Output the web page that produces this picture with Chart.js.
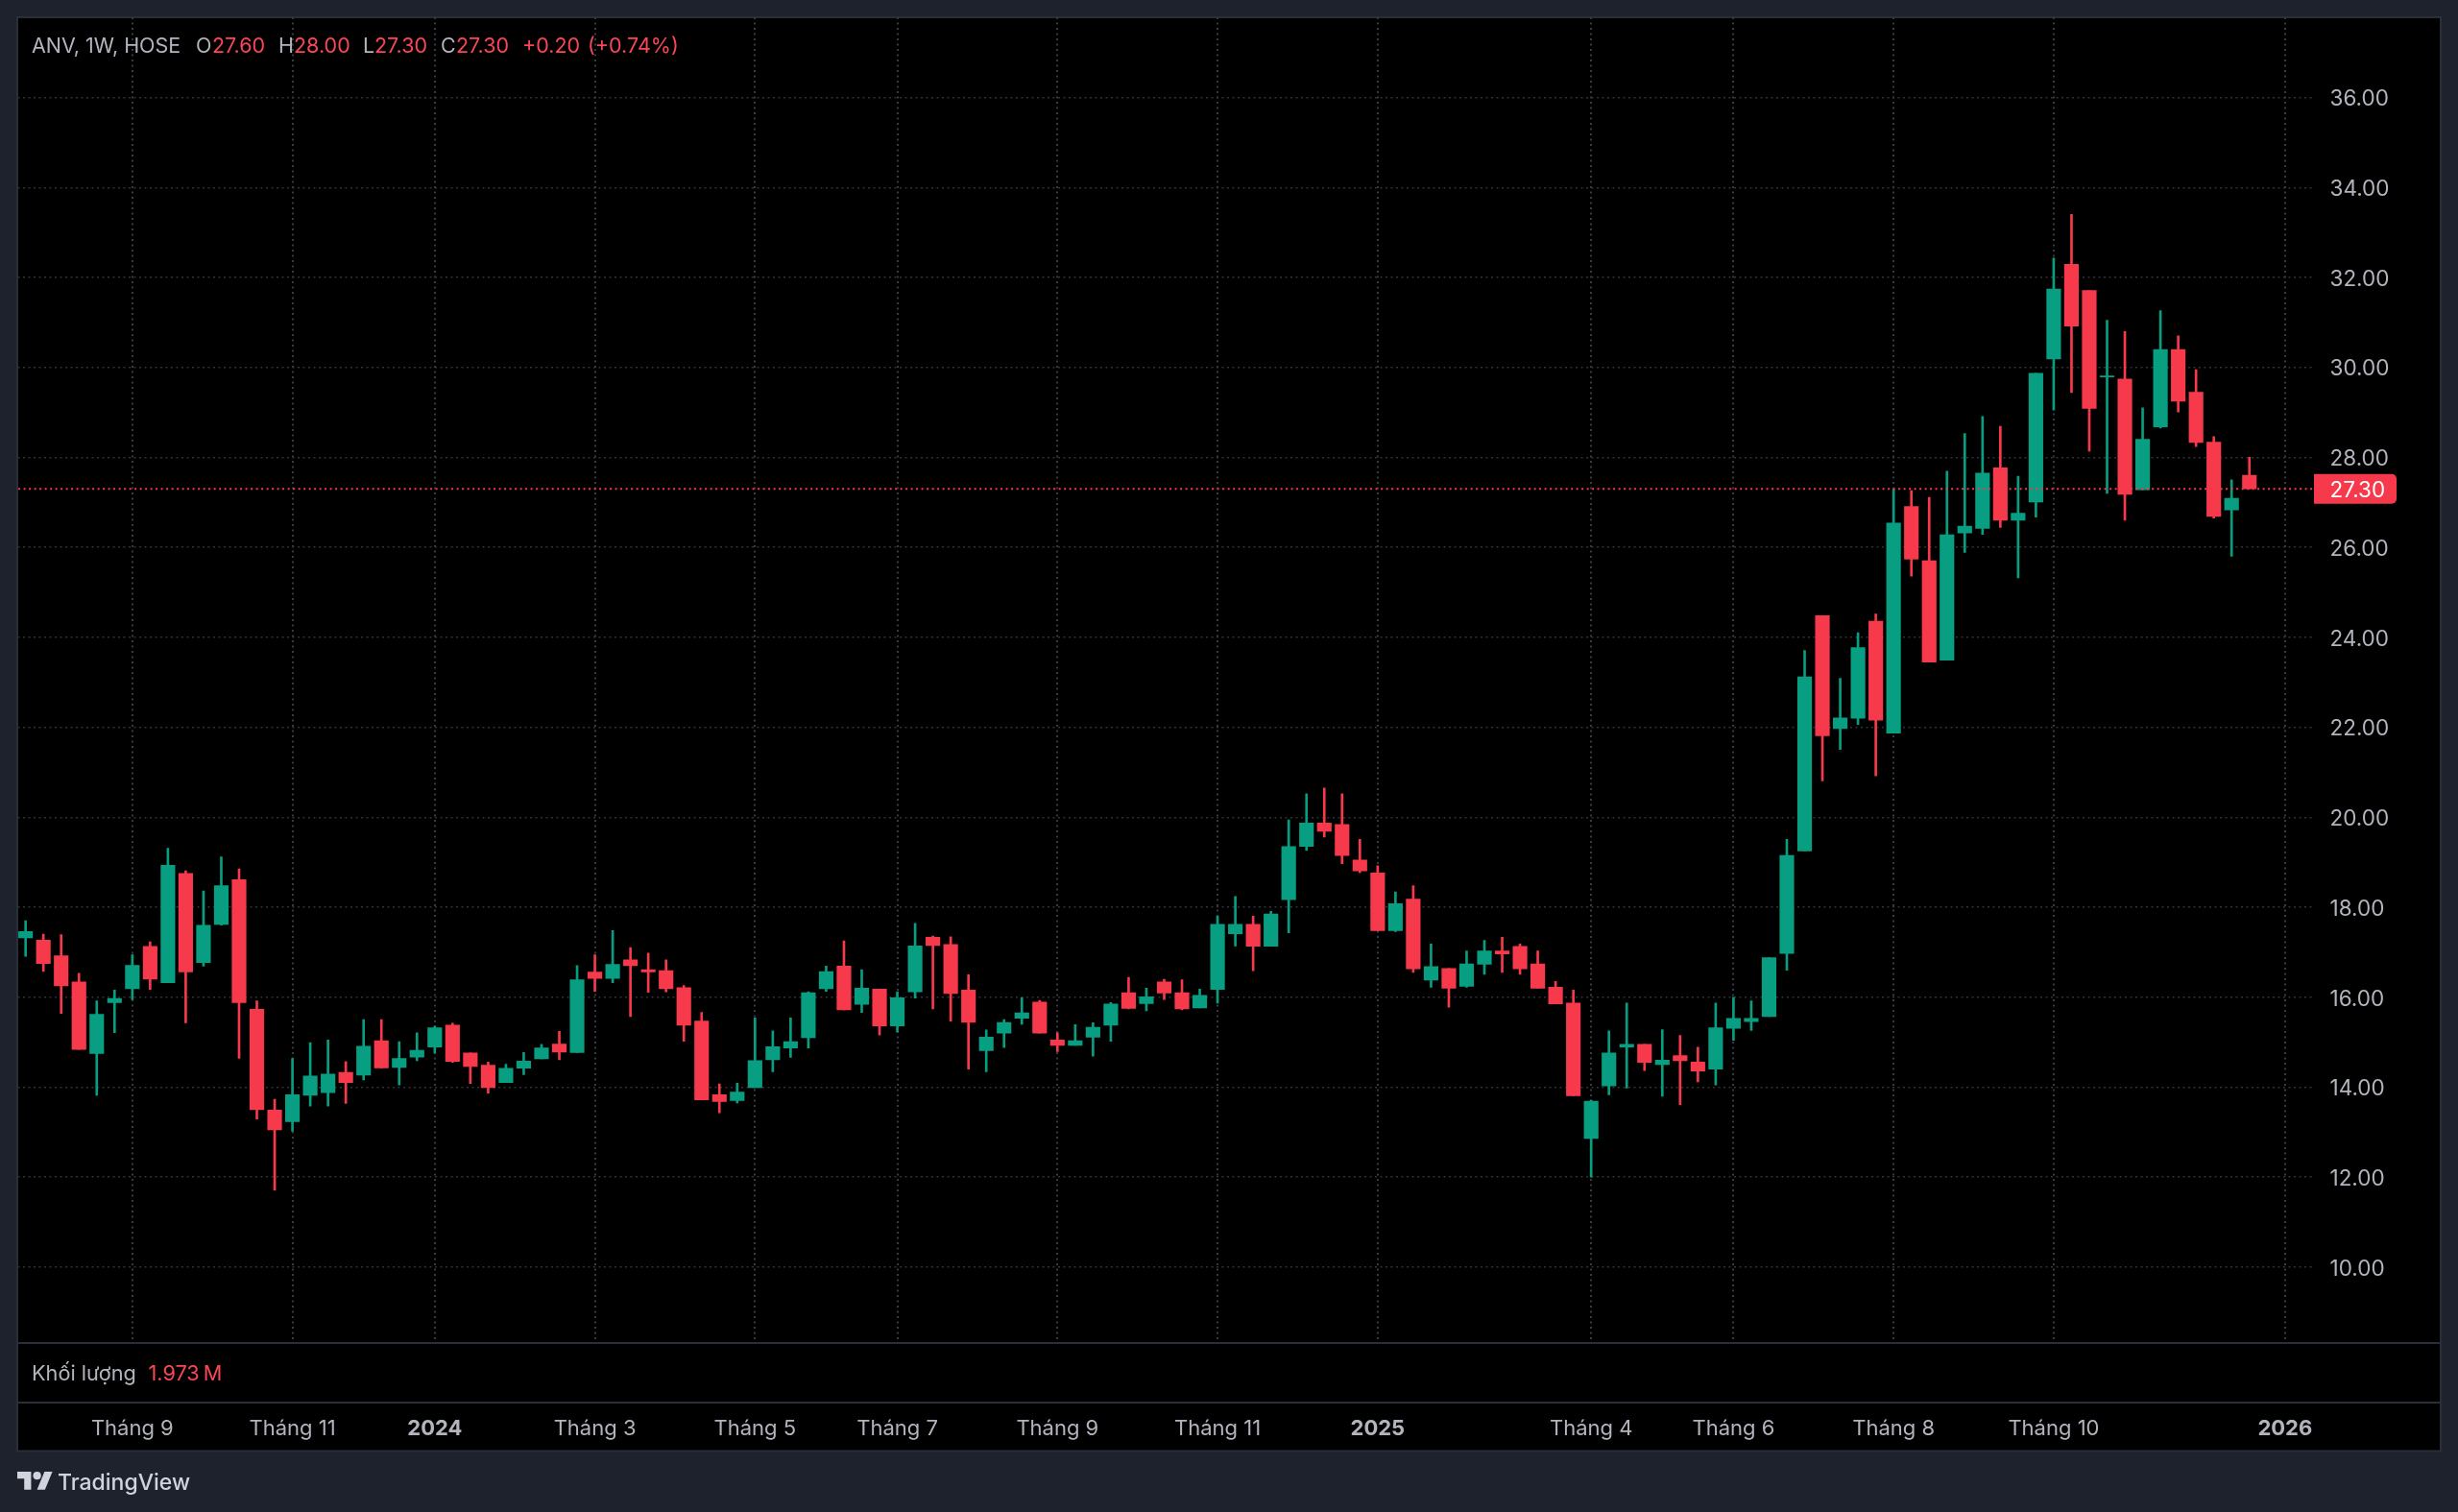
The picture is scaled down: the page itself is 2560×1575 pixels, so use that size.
<!DOCTYPE html>
<html>
<head>
<meta charset="utf-8">
<title>ANV, 1W, HOSE</title>
<script src="https://cdn.jsdelivr.net/npm/chart.js@4"></script>
<style>
	html, body { margin: 0; padding: 0; background: #1e222d; }
	canvas { display: block; }
</style>
</head>
<body>
<canvas id="chart" width="2560" height="1575"></canvas>
<script>
// weekly candles (oldest first)
const opens = [
	17.32, 17.27, 16.92, 16.34, 14.75, 15.88, 16.19, 17.13, 16.32, 18.75,
	16.77, 17.62, 18.61, 15.73, 13.49, 13.23, 13.82, 13.88, 14.33, 14.27,
	15.03, 14.44, 14.67, 14.89, 15.38, 14.76, 14.49, 14.10, 14.42, 14.63,
	14.96, 14.77, 16.56, 16.42, 16.83, 16.61, 16.59, 16.21, 15.47, 13.83,
	13.70, 13.99, 14.61, 14.87, 15.10, 16.19, 16.69, 15.84, 16.18, 15.36,
	16.12, 17.33, 17.17, 16.16, 14.81, 15.20, 15.53, 15.89, 15.05, 14.93,
	15.11, 15.38, 16.10, 15.86, 16.34, 16.10, 15.76, 16.17, 17.41, 17.62,
	17.13, 18.17, 19.35, 19.87, 19.84, 19.05, 18.76, 17.48, 18.18, 16.38,
	16.64, 16.24, 16.73, 17.03, 17.13, 16.74, 16.22, 15.87, 12.86, 14.03,
	14.89, 14.95, 14.50, 14.70, 14.56, 14.40, 15.31, 15.46, 15.57, 16.97,
	19.25, 24.48, 21.97, 22.20, 24.36, 21.87, 26.91, 25.70, 23.49, 26.32,
	26.42, 27.77, 26.60, 27.01, 30.19, 32.29, 31.71, 29.79, 29.74, 27.28,
	28.68, 30.40, 29.45, 28.34, 26.83, 27.60,
];
const highs = [
	17.70, 17.40, 17.39, 16.53, 15.92, 16.16, 16.94, 17.23, 19.31, 18.81,
	18.36, 19.12, 18.85, 15.92, 13.73, 14.64, 14.99, 15.05, 14.57, 15.50,
	15.50, 15.01, 15.21, 15.36, 15.42, 14.76, 14.56, 14.51, 14.77, 14.95,
	15.24, 16.70, 16.94, 17.48, 17.10, 16.98, 16.83, 16.26, 15.66, 14.07,
	14.09, 15.54, 15.25, 15.54, 16.12, 16.69, 17.25, 16.61, 16.18, 16.12,
	17.64, 17.36, 17.34, 16.50, 15.27, 15.50, 15.99, 15.93, 15.21, 15.39,
	15.43, 15.88, 16.44, 16.20, 16.40, 16.39, 16.18, 17.80, 18.24, 17.80,
	17.91, 19.94, 20.52, 20.65, 20.52, 19.51, 18.92, 18.34, 18.48, 17.18,
	16.64, 17.03, 17.26, 17.33, 17.18, 17.03, 16.35, 16.16, 13.71, 15.25,
	15.87, 14.95, 15.28, 15.15, 14.89, 15.87, 16.00, 15.92, 16.88, 19.51,
	23.71, 24.48, 23.09, 24.10, 24.52, 27.29, 27.26, 27.11, 27.69, 28.53,
	28.91, 28.69, 27.58, 29.87, 32.43, 33.40, 31.71, 31.05, 30.80, 29.10,
	31.26, 30.70, 29.95, 28.46, 27.50, 28.00,
];
const lows = [
	16.91, 16.57, 15.64, 14.84, 13.82, 15.21, 15.95, 16.17, 16.32, 15.43,
	16.69, 17.60, 14.64, 13.29, 11.71, 13.02, 13.58, 13.58, 13.64, 14.16,
	14.43, 14.05, 14.59, 14.76, 14.55, 14.08, 13.87, 14.10, 14.28, 14.63,
	14.61, 14.77, 16.13, 16.32, 15.57, 16.11, 16.12, 15.02, 13.72, 13.43,
	13.65, 13.99, 14.34, 14.66, 14.87, 16.13, 15.72, 15.66, 15.16, 15.23,
	15.98, 15.74, 15.47, 14.40, 14.34, 14.88, 15.40, 15.20, 14.79, 14.93,
	14.69, 15.02, 15.74, 15.70, 15.95, 15.72, 15.76, 15.87, 17.14, 16.59,
	17.13, 17.43, 19.26, 19.56, 18.97, 18.77, 17.48, 17.46, 16.55, 16.22,
	15.78, 16.22, 16.51, 16.55, 16.51, 16.20, 15.85, 13.81, 12.00, 13.83,
	13.98, 14.37, 13.80, 13.61, 14.12, 14.05, 15.04, 15.26, 15.57, 16.60,
	19.25, 20.81, 21.51, 22.06, 20.92, 21.87, 25.36, 23.45, 23.49, 25.89,
	26.29, 26.44, 25.32, 26.67, 29.05, 29.44, 28.14, 27.20, 26.60, 27.28,
	28.65, 29.01, 28.24, 26.65, 25.80, 27.30,
];
const closes = [
	17.46, 16.75, 16.25, 14.84, 15.62, 15.97, 16.71, 16.40, 18.93, 16.56,
	17.60, 18.48, 15.88, 13.50, 13.05, 13.83, 14.25, 14.29, 14.10, 14.91,
	14.43, 14.64, 14.82, 15.32, 14.57, 14.46, 13.99, 14.42, 14.58, 14.87,
	14.78, 16.39, 16.42, 16.73, 16.70, 16.56, 16.19, 15.38, 13.72, 13.68,
	13.89, 14.59, 14.90, 15.01, 16.10, 16.57, 15.72, 16.20, 15.36, 15.99,
	17.14, 17.15, 16.08, 15.44, 15.11, 15.44, 15.65, 15.20, 14.93, 15.03,
	15.33, 15.85, 15.75, 16.01, 16.09, 15.74, 16.04, 17.62, 17.62, 17.13,
	17.85, 19.35, 19.87, 19.69, 19.15, 18.81, 17.48, 18.08, 16.63, 16.68,
	16.20, 16.74, 17.03, 16.96, 16.63, 16.20, 15.85, 13.81, 13.69, 14.76,
	14.95, 14.55, 14.60, 14.59, 14.36, 15.32, 15.53, 15.53, 16.88, 19.15,
	23.12, 21.81, 22.21, 23.77, 22.16, 26.54, 25.74, 23.45, 26.28, 26.47,
	27.65, 26.60, 26.76, 29.87, 31.74, 30.92, 29.09, 29.81, 27.18, 28.40,
	30.40, 29.25, 28.33, 26.69, 27.09, 27.30,
];

// time axis: which week each label sits on
const timeWeeks = [6, 15, 23, 32, 41, 49, 58, 67, 76, 88, 96, 105, 114, 127];
const timeLabels = ['Tháng 9', 'Tháng 11', '2024', 'Tháng 3', 'Tháng 5', 'Tháng 7', 'Tháng 9', 'Tháng 11', '2025', 'Tháng 4', 'Tháng 6', 'Tháng 8', 'Tháng 10', '2026'];
const priceTicks = [10, 12, 14, 16, 18, 20, 22, 24, 26, 28, 30, 32, 34, 36];
const lastPrice = closes[closes.length - 1];
const volumeText = '1.973\u2009M';

const up = '#089e82';
const down = '#f6394b';
const downText = '#fa4656';
const frame = '#2a2e39';
const axisText = '#b2b5be';
const font = 'Inter, sans-serif';

const candleColors = closes.map((c, i) => (c >= opens[i] ? up : down));

// panel background, separators
const panelPlugin = {
	id: 'panelPlugin',
	beforeDraw(chart) {
		const { ctx } = chart;
		ctx.save();
		ctx.fillStyle = '#000';
		ctx.fillRect(18.5, 18, 2523.5, 1493.5);
		ctx.strokeStyle = frame;
		ctx.lineWidth = 2;
		ctx.strokeRect(18, 18, 2524, 1493.5);
		ctx.beginPath();
		ctx.moveTo(18, 1399);
		ctx.lineTo(2542, 1399);
		ctx.moveTo(18, 1461);
		ctx.lineTo(2542, 1461);
		ctx.stroke();
		ctx.restore();
	},
	afterDraw(chart) {
		const { ctx, scales: { y } } = chart;
		ctx.save();
		ctx.textBaseline = 'middle';

		// price tag
		const tagY = y.getPixelForValue(lastPrice);
		ctx.fillStyle = down;
		ctx.beginPath();
		ctx.roundRect(2410, tagY - 15.5, 86, 31, [0, 5, 5, 0]);
		ctx.fill();
		ctx.fillStyle = '#fff';
		ctx.font = `22.5px ${font}`;
		ctx.fillText(lastPrice.toFixed(2), 2426.5, tagY + 2);

		// ohlc legend
		const last = closes.length - 1;
		ctx.font = `21.5px ${font}`;
		const legend = [
			['ANV, 1W, HOSE', 33, axisText],
			['O', 204, axisText],
			[opens[last].toFixed(2), 221, downText],
			['H', 290, axisText],
			[highs[last].toFixed(2), 306, downText],
			['L', 378, axisText],
			[lows[last].toFixed(2), 390, downText],
			['C', 459, axisText],
			[closes[last].toFixed(2), 475, downText],
			['+0.20', 544, downText],
			['(+0.74%)', 612, downText],
		];
		legend.forEach(([text, x, color]) => {
			ctx.fillStyle = color;
			ctx.fillText(text, x, 49);
		});

		// volume pane legend
		ctx.font = `21.7px ${font}`;
		ctx.fillStyle = axisText;
		ctx.fillText('Khối lượng', 33, 1431);
		ctx.fillStyle = downText;
		ctx.fillText(volumeText, 154.5, 1431);

		// logo
		ctx.fillStyle = '#d1d4dc';
		ctx.save();
		ctx.translate(18, 1529);
		ctx.scale(1.03, 1.03);
		ctx.fill(new Path2D('M14 22H7V11H0V4h14v18ZM28 22h-8l7.5-18h8L28 22Z'));
		ctx.beginPath();
		ctx.arc(20, 8, 4, 0, Math.PI * 2);
		ctx.fill();
		ctx.restore();
		ctx.font = `500 23px ${font}`;
		ctx.fillText('TradingView', 60, 1545);
		ctx.restore();
	},
};

const config = {
	data: {
		datasets: [
			{
				type: 'line',
				data: [{ x: -1, y: lastPrice }, { x: 130, y: lastPrice }],
				borderColor: down,
				borderWidth: 2,
				borderDash: [2, 3.5],
				pointRadius: 0,
				order: 0,
			},
			{
				type: 'bar',
				data: opens.map((o, i) => ({ x: i, y: [o, closes[i]] })),
				backgroundColor: candleColors,
				barThickness: 14.5,
				grouped: false,
				order: 1,
			},
			{
				type: 'bar',
				data: lows.map((l, i) => ({ x: i, y: [l, highs[i]] })),
				backgroundColor: candleColors,
				barThickness: 2,
				grouped: false,
				order: 2,
			},
		],
	},
	options: {
		responsive: false,
		animation: false,
		layout: {
			padding: { left: 18.5, top: 18, right: 18.3, bottom: 64.5 },
		},
		plugins: {
			legend: { display: false },
			tooltip: { enabled: false },
		},
		scales: {
			x: {
				type: 'linear',
				offset: false,
				min: -0.44,
				max: 128.63,
				afterBuildTicks: scale => {
					scale.ticks = timeWeeks.map(value => ({ value }));
				},
				afterFit: scale => {
					scale.height = 111.5;
					scale.paddingLeft = 0;
					scale.paddingRight = 0;
				},
				grid: {
					offset: false,
					color: '#363a45',
					lineWidth: 2,
					drawTicks: false,
				},
				border: { display: false, dash: [2, 3.5] },
				ticks: {
					autoSkip: false,
					maxRotation: 0,
					padding: 76,
					color: axisText,
					font: context => ({
						family: font,
						size: 22,
						weight: /^\d/.test(timeLabels[context.index]) ? 'bold' : 'normal',
					}),
					callback: (value, index) => timeLabels[index],
				},
			},
			y: {
				type: 'linear',
				position: 'right',
				min: 8.312,
				max: 37.783,
				afterBuildTicks: scale => {
					scale.ticks = priceTicks.map(value => ({ value }));
				},
				afterFit: scale => {
					scale.width = 131.7;
					scale.paddingTop = 0;
					scale.paddingBottom = 0;
				},
				grid: {
					color: '#30333b',
					lineWidth: 1.5,
					drawTicks: false,
				},
				border: { display: false, dash: [2, 3.5] },
				ticks: {
					padding: 16.5,
					labelOffset: 2,
					color: axisText,
					font: { family: font, size: 22.5 },
					callback: value => value.toFixed(2),
				},
			},
		},
	},
	plugins: [panelPlugin],
};

const myChart = new Chart(document.getElementById('chart'), config);
</script>
</body>
</html>
